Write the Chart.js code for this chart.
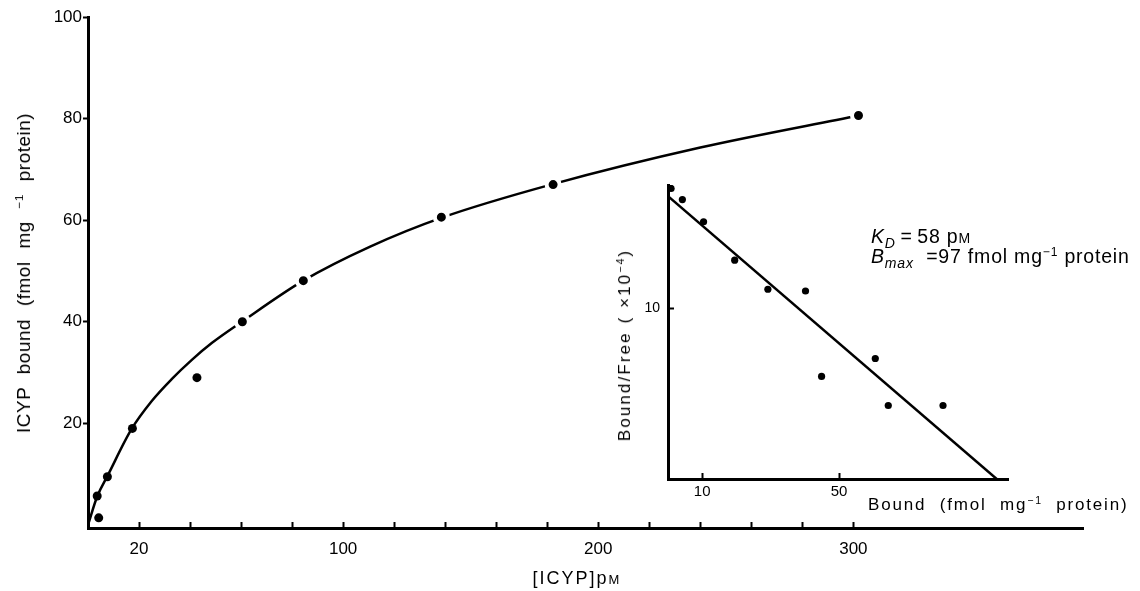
<!DOCTYPE html>
<html>
<head>
<meta charset="utf-8">
<title>ICYP binding</title>
<script src="https://cdn.jsdelivr.net/npm/chart.js@4.4.1/dist/chart.umd.min.js"></script>
<style>
    html, body { margin: 0; padding: 0; background: #fff; }
    #wrap { position: relative; width: 1140px; height: 591px; font-family: "Liberation Sans", Arial, sans-serif; color: #000; }
    #mainChart { position: absolute; left: 0; top: 0; }
    #insetChart { position: absolute; left: 600px; top: 170px; }
    .lbl { position: absolute; white-space: nowrap; font-size: 19.5px; line-height: 22px; }
    .rot { transform: translate(-50%, -50%) rotate(-90deg); }
    .sc { font-size: 0.72em; }
    sup { font-size: 0.62em; vertical-align: 0.6em; line-height: 0; }
    sub { font-size: 0.72em; vertical-align: -0.35em; line-height: 0; }
</style>
</head>
<body>
<div id="wrap">
    <canvas id="mainChart" width="1140" height="591"></canvas>
    <canvas id="insetChart" width="540" height="330"></canvas>
    <div class="lbl rot" style="left:24px; top:273px; font-size:19px; letter-spacing:0.5px; word-spacing:7px;">ICYP bound (fmol mg <sup>−1</sup> protein)</div>
    <div class="lbl" style="left:577px; top:567px; font-size:18px; letter-spacing:2px; transform:translateX(-50%);">[ICYP]p<span class="sc">M</span></div>
    <div class="lbl rot" style="left:625px; top:345px; font-size:17px; letter-spacing:2.1px; word-spacing:1px;">Bound/Free ( ×10<sup>−4</sup>)</div>
    <div class="lbl" style="left:868px; top:494px; font-size:17px; letter-spacing:1.8px; word-spacing:7px;">Bound (fmol mg<sup>−1</sup> protein)</div>
    <div class="lbl" style="left:871px; top:225px; letter-spacing:0.8px;"><i>K</i><sub><i>D</i></sub>&thinsp;=&thinsp;58 p<span class="sc">M</span></div>
    <div class="lbl" style="left:871px; top:245px; letter-spacing:0.8px;"><i>B</i><sub><i>max</i></sub>&nbsp;&nbsp;=97 fmol mg<sup>−1</sup> protein</div>
</div>
<script>
// Saturation data: [ICYP] (pM) vs bound (fmol/mg protein)
const icypConc = [3.6, 4.2, 7.6, 17.4, 42.7, 60.5, 84.4, 138.5, 182.3, 302];
const icypBound = [5.7, 1.4, 9.5, 19.0, 29.0, 40.0, 48.1, 60.6, 67.0, 80.6];

// Hand-drawn saturation curve
const curveConc = [0, 3.6, 7.7, 17.1, 25.0, 32.8, 40.7, 48.5, 60.3, 84.4, 110.6, 138.7, 182.2, 240, 302];
const curveBound = [0, 5.6, 9.7, 18.9, 24.4, 28.7, 32.5, 35.8, 40.0, 48.1, 54.8, 60.5, 67.1, 74.3, 80.6];

// Main axis ticks
const xTicks = [20, 40, 60, 80, 100, 120, 140, 160, 180, 200, 220, 240, 260, 280, 300];
const xLabels = [20, 100, 200, 300];
const yTicks = [20, 40, 60, 80, 100];

// Scatchard inset: bound vs bound/free (x10^-4)
const scatBound = [0.9, 4.2, 10.4, 19.5, 29.2, 40.2, 44.9, 60.6, 64.4, 80.4];
const scatRatio = [17.0, 16.35, 15.05, 12.8, 11.1, 11.0, 6.0, 7.05, 4.3, 4.3];
const fitBound = [0, 96.1];
const fitRatio = [16.55, 0];
const insetXTicks = [10, 50];
const insetYTicks = [10];

const FONT = '"Liberation Sans", Arial, sans-serif';
const toXY = (xs, ys) => xs.map((x, i) => ({ x: x, y: ys[i] }));

// keep the chart area exactly where the axes sit in the original
function fixX(h) {
    return s => { s.height = h; s.paddingLeft = 0; s.paddingRight = 0; };
}
function fixY(w) {
    return s => { s.width = w; s.paddingTop = 0; s.paddingBottom = 0; };
}

// Main saturation chart
new Chart(document.getElementById('mainChart').getContext('2d'), {
    type: 'scatter',
    data: {
        datasets: [
            {
                label: 'ICYP bound',
                data: toXY(icypConc, icypBound),
                backgroundColor: '#000',
                pointBorderColor: '#fff',
                // white ring leaves a gap in the curve like the original
                pointRadius: ctx => (ctx.raw && ctx.raw.x > 50) ? 6.5 : 4.5,
                pointBorderWidth: ctx => (ctx.raw && ctx.raw.x > 50) ? 4 : 0,
                order: 0
            },
            {
                label: 'curve',
                data: toXY(curveConc, curveBound),
                showLine: true,
                borderColor: '#000',
                borderWidth: 2.5,
                pointRadius: 0,
                cubicInterpolationMode: 'monotone',
                order: 1
            }
        ]
    },
    options: {
        responsive: false,
        animation: false,
        layout: { padding: { top: 17, right: 57, left: 0, bottom: 0 } },
        plugins: { legend: { display: false }, tooltip: { enabled: false } },
        scales: {
            x: {
                type: 'linear',
                min: 0,
                max: 390,
                afterBuildTicks: s => { s.ticks = xTicks.map(v => ({ value: v })); },
                afterFit: fixX(63),
                border: { display: true, color: '#000', width: 3 },
                grid: { drawOnChartArea: false, color: '#000', tickLength: -6, tickWidth: 2 },
                ticks: {
                    autoSkip: false,
                    maxRotation: 0,
                    padding: 17,
                    color: '#000',
                    font: { family: FONT, size: 17 },
                    callback: v => xLabels.includes(v) ? String(v) : ''
                }
            },
            y: {
                type: 'linear',
                min: -0.6,
                max: 100,
                afterBuildTicks: s => { s.ticks = yTicks.map(v => ({ value: v })); },
                afterFit: fixY(88),
                border: { display: true, color: '#000', width: 3 },
                grid: { drawOnChartArea: false, color: '#000', tickLength: 5, tickWidth: 2 },
                ticks: { padding: 1, color: '#000', font: { family: FONT, size: 17 } }
            }
        }
    }
});

// Scatchard inset
new Chart(document.getElementById('insetChart').getContext('2d'), {
    type: 'scatter',
    data: {
        datasets: [
            {
                label: 'Scatchard',
                data: toXY(scatBound, scatRatio),
                backgroundColor: '#000',
                pointRadius: 3.6,
                pointBorderWidth: 0,
                order: 0
            },
            {
                label: 'fit',
                data: toXY(fitBound, fitRatio),
                showLine: true,
                borderColor: '#000',
                borderWidth: 2.5,
                pointRadius: 0,
                order: 1
            }
        ]
    },
    options: {
        responsive: false,
        animation: false,
        layout: { padding: { top: 15, right: 132, left: 0, bottom: 0 } },
        plugins: { legend: { display: false }, tooltip: { enabled: false } },
        scales: {
            x: {
                type: 'linear',
                min: 0,
                max: 99.4,
                afterBuildTicks: s => { s.ticks = insetXTicks.map(v => ({ value: v })); },
                afterFit: fixX(21),
                border: { display: true, color: '#000', width: 3 },
                grid: { drawOnChartArea: false, color: '#000', tickLength: -6, tickWidth: 2 },
                ticks: { autoSkip: false, maxRotation: 0, padding: 10, color: '#000', font: { family: FONT, size: 15 } }
            },
            y: {
                type: 'linear',
                min: 0,
                max: 17.2,
                afterBuildTicks: s => { s.ticks = insetYTicks.map(v => ({ value: v })); },
                afterFit: fixY(68),
                border: { display: true, color: '#000', width: 3 },
                grid: { drawOnChartArea: false, color: '#000', tickLength: -6, tickWidth: 2 },
                ticks: { padding: 14, color: '#000', font: { family: FONT, size: 14 } }
            }
        }
    }
});
</script>
</body>
</html>
